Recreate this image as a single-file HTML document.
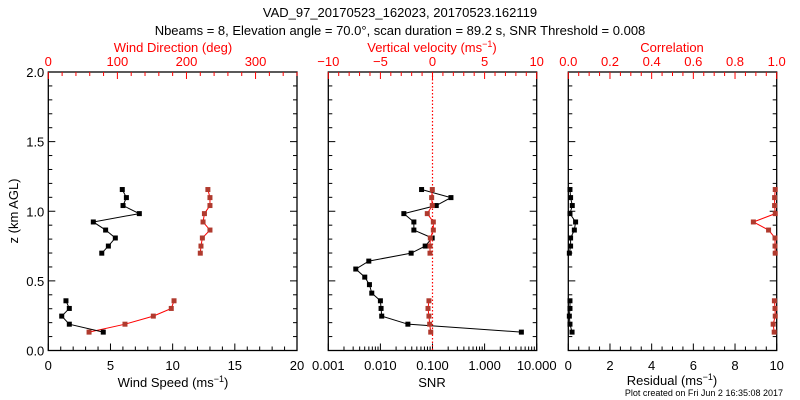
<!DOCTYPE html>
<html><head><meta charset="utf-8"><style>
body{margin:0;background:#fff}
svg{display:block;font-family:"Liberation Sans",sans-serif}
</style></head><body>
<svg id="c" width="800" height="400" xmlns="http://www.w3.org/2000/svg">
<text x="400" y="17" font-size="13" text-anchor="middle">VAD_97_20170523_162023, 20170523.162119</text>
<text x="400" y="35" font-size="13" text-anchor="middle">Nbeams = 8, Elevation angle = 70.0°, scan duration = 89.2 s, SNR Threshold = 0.008</text>
<text x="783" y="396" font-size="9" text-anchor="end">Plot created on Fri Jun  2 16:35:08 2017</text>
<g id="g"></g>
</svg>
<script>
const heights=[0.132,0.189,0.247,0.302,0.357,0.412,0.473,0.527,0.585,0.642,0.699,0.750,0.808,0.865,0.923,0.983,1.041,1.098,1.156];
const windSpeed=[4.42,1.69,1.08,1.69,1.42,null,null,null,null,null,4.3,4.83,5.39,4.61,3.62,7.32,6.01,6.28,5.95];
const windDir=[59,111,152,178,182,null,null,null,null,null,220,221,223,234,224,226,234,234,231];
const snr=[5.08,0.0337,0.0106,0.0103,0.0100,0.00683,0.00616,0.00501,0.00337,0.00599,0.0389,0.0724,0.0986,0.0439,0.0439,0.0282,0.118,0.226,0.0617];
const wVel=[-0.17,-0.27,-0.34,-0.43,-0.34,null,null,null,null,null,-0.24,-0.24,-0.21,0.08,0.08,-0.5,-0.02,-0.08,-0.02];
const residual=[0.18,0.08,0.05,0.08,0.08,null,null,null,null,null,0.05,0.11,0.11,0.29,0.35,0.08,0.19,0.11,0.08];
const corr=[0.988,0.983,0.993,0.992,0.989,null,null,null,null,null,0.993,0.992,0.992,0.961,0.888,0.993,0.99,0.99,0.993];
const zTicks=[0,0.5,1,1.5,2];
const wsTicks=[0,5,10,15,20];
const wdTicks=[0,100,200,300];
const snrTicks=[0.001,0.01,0.1,1,10];
const snrLabels=["0.001","0.010","0.100","1.000","10.000"];
const wvTicks=[-10,-5,0,5,10];
const resTicks=[0,2,4,6,8,10];
const corrTicks=[0,0.2,0.4,0.6,0.8,1];

const NS="http://www.w3.org/2000/svg",G=document.getElementById('g');
function el(t,a,p){const e=document.createElementNS(NS,t);for(const k in a)e.setAttribute(k,a[k]);(p||G).appendChild(e);return e;}
const T=72,B=350.5;
const yS=z=>B-(z/2)*(B-T);
const RED="#ff0000",MRK="#b03a2e";
function lin(d0,d1,r0,r1){return v=>r0+(v-d0)/(d1-d0)*(r1-r0);}
function txt(x,y,s,col,anchor,name,size){const t=el('text',{x:x,y:y,'font-size':size||13,fill:col,'text-anchor':anchor||'middle'});t.textContent=s;


return t;}
function frame(x0,x1,name){const r=el('rect',{x:x0,y:T,width:x1-x0,height:B-T,fill:'none',stroke:'#000','stroke-width':1.3});

}
function tick(x,y,dx,dy,col){el('line',{x1:x,y1:y,x2:x+dx,y2:y+dy,stroke:col,'stroke-width':1});}
function yAxis(x0,x1,labels){
  for(let i=0;i<=20;i++){const y=yS(i*0.1),L=i%5==0?7:4;tick(x0,y,L,0,'#000');tick(x1,y,-L,0,'#000');}
  if(labels){zTicks.forEach(z=>txt(x0-4,yS(z)+5,z.toFixed(1),'#000','end','z-tick-label'));
  const t=txt(18,211,'z (km AGL)','#000','middle','y-axis-title');t.setAttribute('transform','rotate(-90 18 211)');}
}
function series(xs,vals,line,mk,name){
  let seg=[];const segs=[];
  vals.forEach((v,i)=>{if(v==null){if(seg.length)segs.push(seg);seg=[];}else seg.push([xs(v),yS(heights[i])]);});
  if(seg.length)segs.push(seg);
  segs.forEach(s=>{const p=el('polyline',{points:s.map(q=>q.join(',')).join(' '),fill:'none',stroke:line,'stroke-width':1});
  
  });
  vals.forEach((v,i)=>{if(v==null)return;const r=el('rect',{x:xs(v)-2.5,y:yS(heights[i])-2.5,width:5,height:5,fill:mk});
  
  });
}
// Panel 1
{const x0=48.3,x1=297,xb=lin(0,20,x0,x1),xt=lin(0,360,x0,x1);
frame(x0,x1,'wind-panel-frame');yAxis(x0,x1,true);
for(let v=0;v<=20;v++)tick(xb(v),B,0,v%5==0?-7:-4,'#000');
wsTicks.forEach(v=>txt(xb(v),370,String(v),'#000','middle','wind-speed-tick-label'));
for(let v=0;v<=360;v+=20)tick(xt(v),T,0,v%100==0?7:4,RED);
wdTicks.forEach(v=>txt(xt(v),66,String(v),RED,'middle','wind-direction-tick-label'));
txt(173,52,'Wind Direction (deg)',RED,'middle','wind-direction-axis-title');
const t=txt(173,387,'','#000','middle','wind-speed-axis-title');t.innerHTML='Wind Speed (ms<tspan dy="-5" font-size="9">−1</tspan><tspan dy="5">)</tspan>';
series(xt,windDir,RED,MRK,'wind-direction');
series(xb,windSpeed,'#000','#000','wind-speed');}
// Panel 2
{const x0=328.3,x1=536.7,xl=v=>x0+(Math.log10(v)+3)*(x1-x0)/4,xt=lin(-10,10,x0,x1);
frame(x0,x1,'snr-panel-frame');yAxis(x0,x1,false);
for(let d=-3;d<1;d++)for(let m=1;m<10;m++)tick(xl(m*Math.pow(10,d)),B,0,m==1?-7:-4,'#000');
tick(xl(10),B,0,-7,'#000');
snrTicks.forEach((v,i)=>txt(xl(v),370,snrLabels[i],'#000','middle','snr-tick-label'));
for(let v=-10;v<=10;v++)tick(xt(v),T,0,v%5==0?7:4,RED);
wvTicks.forEach(v=>txt(xt(v),66,v<0?'−'+(-v):String(v),RED,'middle','vertical-velocity-tick-label'));
const t2=txt(432,52,'',RED,'middle','vertical-velocity-axis-title');t2.innerHTML='Vertical velocity (ms<tspan dy="-5" font-size="9">−1</tspan><tspan dy="5">)</tspan>';
txt(432,387,'SNR','#000','middle','snr-axis-title');
const z=el('line',{x1:xt(0),y1:T,x2:xt(0),y2:B,stroke:RED,'stroke-dasharray':'1.5,2','stroke-width':1.2});


series(xl,snr,'#000','#000','snr');
series(xt,wVel,RED,MRK,'vertical-velocity');}
// Panel 3
{const x0=568.3,x1=776.7,xb=lin(0,10,x0,x1),xt=lin(0,1,x0,x1);
frame(x0,x1,'residual-panel-frame');yAxis(x0,x1,false);
for(let v=0;v<=20;v++)tick(xb(v/2),B,0,v%4==0?-7:-4,'#000');
resTicks.forEach(v=>txt(xb(v),370,String(v),'#000','middle','residual-tick-label'));
for(let v=0;v<=20;v++)tick(xt(v/20),T,0,v%4==0?7:4,RED);
corrTicks.forEach(v=>txt(xt(v),66,v.toFixed(1),RED,'middle','correlation-tick-label'));
txt(672,52,'Correlation',RED,'middle','correlation-axis-title');
const t3=txt(672,385,'','#000','middle','residual-axis-title');t3.innerHTML='Residual (ms<tspan dy="-5" font-size="9">−1</tspan><tspan dy="5">)</tspan>';
series(xt,corr,RED,MRK,'correlation');
series(xb,residual,'#000','#000','residual');}
</script>
</body></html>
